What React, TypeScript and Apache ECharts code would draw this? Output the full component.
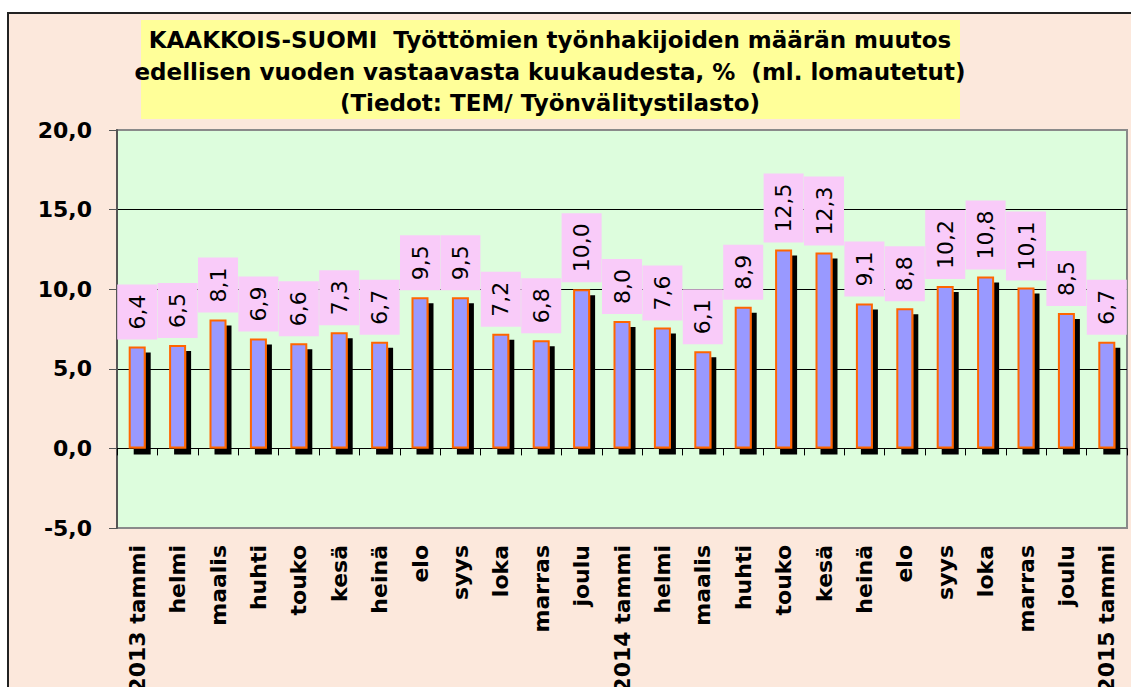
import React, { useEffect, useRef } from "react";
import * as echarts from "echarts";

const categories = [
  "2013 tammi", "helmi", "maalis", "huhti", "touko", "kesä", "heinä", "elo", "syys", "loka", "marras", "joulu",
  "2014 tammi", "helmi", "maalis", "huhti", "touko", "kesä", "heinä", "elo", "syys", "loka", "marras", "joulu",
  "2015 tammi",
];
const values = [
  6.4, 6.5, 8.1, 6.9, 6.6, 7.3, 6.7, 9.5, 9.5, 7.2, 6.8, 10.0,
  8.0, 7.6, 6.1, 8.9, 12.5, 12.3, 9.1, 8.8, 10.2, 10.8, 10.1, 8.5,
  6.7,
];
const titleLines = [
  "KAAKKOIS-SUOMI  Työttömien työnhakijoiden määrän muutos",
  "edellisen vuoden vastaavasta kuukaudesta, %  (ml. lomautetut)",
  "(Tiedot: TEM/ Työnvälitystilasto)",
];
const yMin = -5;
const yMax = 20;
const yStep = 5;

const FONT = "'DejaVu Sans', sans-serif";
const fmt = (v: number) => v.toFixed(1).replace(".", ",");

export default function App() {
  const ref = useRef<HTMLDivElement>(null);
  useEffect(() => {
    if (!ref.current) return;
    const chart = echarts.init(ref.current, null, { renderer: "svg" });
    const titleY = [26, 57.5, 89];
    chart.setOption({
      animation: false,
      textStyle: { fontFamily: FONT },
      graphic: [
        {
          type: "rect",
          shape: { x: 132, y: 6, width: 819, height: 99 },
          style: { fill: "#FFFF99" },
          z: 1,
        },
        ...titleLines.map((t, i) => ({
          type: "text",
          x: 541,
          y: titleY[i],
          z: 2,
          style: {
            text: t,
            fill: "#000",
            font: `bold 23px ${FONT}`,
            textAlign: "center",
            textVerticalAlign: "middle",
          },
        })),
      ],
      grid: {
        left: 108,
        top: 116,
        right: 4,
        bottom: 159,
        containLabel: false,
        outerBoundsMode: "none",
        show: true,
        backgroundColor: "#DDFDDD",
        borderColor: "#8A8A8A",
        borderWidth: 2,
      },
      xAxis: [
        {
          type: "category",
          data: categories,
          position: "bottom",
          axisLine: { show: true, onZero: true, lineStyle: { color: "#000", width: 1 } },
          axisTick: { show: true, length: 7, interval: 0, lineStyle: { color: "#000" } },
          axisLabel: { show: false },
          splitLine: { show: false },
        },
        {
          type: "category",
          data: categories,
          position: "bottom",
          axisLine: { show: false, onZero: false },
          axisTick: { show: false },
          axisLabel: {
            show: true,
            interval: 0,
            rotate: 90,
            margin: 17,
            color: "#000",
            fontWeight: "bold",
            fontSize: 22,
            fontFamily: FONT,
          },
          splitLine: { show: false },
        },
      ],
      yAxis: {
        type: "value",
        min: yMin,
        max: yMax,
        interval: yStep,
        axisLine: { show: true, lineStyle: { color: "#555", width: 2 } },
        axisTick: { show: true, length: 8, lineStyle: { color: "#555", width: 1 } },
        axisLabel: {
          formatter: (v: number) => fmt(v),
          margin: 25,
          color: "#000",
          fontWeight: "bold",
          fontSize: 22,
          fontFamily: FONT,
        },
        splitLine: {
          show: true,
          lineStyle: { color: ["#8A8A8A", "#000", "#000", "#000", "#000", "#8A8A8A"], width: 1 },
        },
      },
      series: [
        {
          type: "bar",
          xAxisIndex: 0,
          data: values,
          barWidth: 17,
          itemStyle: {
            color: "#9999FF",
            borderColor: "#FF6600",
            borderWidth: 2,
            shadowColor: "#000",
            shadowBlur: 0,
            shadowOffsetX: 5,
            shadowOffsetY: 6,
          },
          label: {
            show: true,
            position: "top",
            rotate: 90,
            align: "left",
            verticalAlign: "middle",
            distance: 7,
            formatter: (p: any) => fmt(p.value),
            color: "#000",
            fontSize: 22,
            lineHeight: 22,
            fontFamily: FONT,
            backgroundColor: "#F9CBF9",
            padding: [9, 10, 9, 10],
          },
        },
      ],
    });
    return () => chart.dispose();
  }, []);
  return (
    <div
      style={{
        position: "fixed",
        left: 7,
        top: 12,
        borderLeft: "2px solid #222",
        borderTop: "2px solid #222",
        background: "#FCE8DC",
      }}
    >
      <div ref={ref} style={{ width: 1122, height: 673 }} />
    </div>
  );
}
